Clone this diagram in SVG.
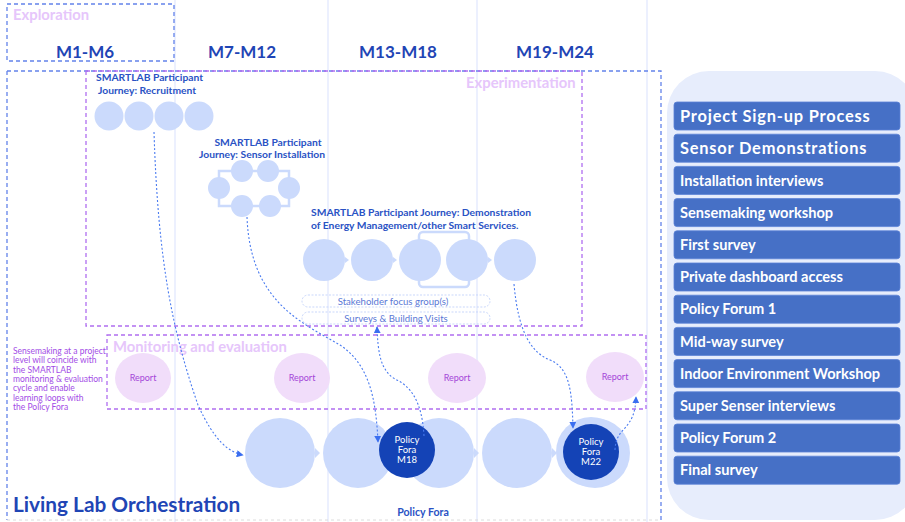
<svg xmlns="http://www.w3.org/2000/svg" width="905" height="522" viewBox="0 0 905 522">
<style>
.col{stroke:#dfe6fd;stroke-width:1.2;fill:none}
.hdr{font-family:Lato,"Noto Sans",sans-serif;font-weight:bold;font-size:17px;fill:#1f45b5;text-anchor:middle}
.ttl{font-family:Lato,"Noto Sans",sans-serif;font-weight:bold;font-size:10.3px;fill:#2a52c4}
.lc{fill:#cbdafc}
.dc{fill:#1443b6}
.wt{font-family:Lato,"Noto Sans",sans-serif;font-size:9.5px;fill:#ffffff;text-anchor:middle}
.pink{font-family:Lato,"Noto Sans",sans-serif;font-weight:bold;font-size:14.8px;fill:#e6c6fb}
.bdash{fill:none;stroke:#6383ea;stroke-width:1.3;stroke-dasharray:4 3}
.pdash{fill:none;stroke:#b06ef0;stroke-width:1.3;stroke-dasharray:4 3}
.rep{fill:#f1ddfa}
.rept{font-family:Lato,"Noto Sans",sans-serif;font-size:9px;fill:#a447d8;text-anchor:middle}
.conn{fill:none;stroke:#4a7bf0;stroke-width:1.1;stroke-dasharray:2 2}
.pill{fill:none;stroke:#c9d7fb;stroke-width:1;stroke-dasharray:2 1.5}
.pillt{font-family:Lato,"Noto Sans",sans-serif;font-size:9.6px;fill:#5a78d6;text-anchor:middle}
.item{fill:#4670c6;stroke:#5b82d6;stroke-width:0.8}
.itemt{font-family:Lato,"Noto Sans",sans-serif;font-weight:bold;font-size:14.6px;fill:#ffffff}
.big{font-size:16.4px;letter-spacing:0.8px}
.chev{fill:#cbdafc}
.frame{fill:none;stroke:#cbdafc;stroke-width:2.5}
</style>
<defs>
<marker id="ah" viewBox="0 0 10 10" refX="9" refY="5" markerWidth="7" markerHeight="7" markerUnits="userSpaceOnUse" orient="auto">
<path d="M0,0 L10,5 L0,10 z" fill="#3a6ef0"/>
</marker>
</defs>
<rect width="905" height="522" fill="#ffffff"/>

<g id="columns">
<line class="col" x1="175" y1="0" x2="175" y2="522"/>
<line class="col" x1="328" y1="0" x2="328" y2="522"/>
<line class="col" x1="477" y1="0" x2="477" y2="522"/>
<line class="col" x1="647" y1="0" x2="647" y2="522"/>
</g>

<g id="exploration">
<rect class="bdash" x="7" y="4" width="167" height="57"/>
<text class="pink" x="13" y="20" font-size="14.5">Exploration</text>
</g>

<g id="headers">
<text class="hdr" x="85" y="58">M1-M6</text>
<text class="hdr" x="242" y="58">M7-M12</text>
<text class="hdr" x="398" y="58">M13-M18</text>
<text class="hdr" x="555" y="58">M19-M24</text>
</g>

<g id="living-lab">
<path d="M7,71 H661 V520" class="bdash"/>
<path d="M7,71 V520" class="bdash"/>
<path d="M7,520 H661" fill="none" stroke="#dcdcdc" stroke-width="1" stroke-dasharray="3 3"/>
<text x="13" y="512" font-family="Lato,'Noto Sans',sans-serif" font-weight="bold" font-size="20.8" fill="#1f45b5">Living Lab Orchestration</text>
</g>

<g id="experimentation">
<rect class="pdash" x="86" y="71" width="496" height="255"/>
<text class="pink" x="466" y="88">Experimentation</text>
</g>

<g id="monitoring">
<rect class="pdash" x="107" y="335" width="539" height="74"/>
<text class="pink" x="113" y="352">Monitoring and evaluation</text>
</g>

<g id="sensemaking-note" font-family="Lato,'Noto Sans',sans-serif" font-size="8.5" fill="#a24be6">
<text x="13" y="354">Sensemaking at a project</text>
<text x="13" y="363.3">level will coincide with</text>
<text x="13" y="372.6">the SMARTLAB</text>
<text x="13" y="381.9">monitoring &amp; evaluation</text>
<text x="13" y="391.2">cycle and enable</text>
<text x="13" y="400.5">learning loops with</text>
<text x="13" y="409.8">the Policy Fora</text>
</g>

<g id="report-1"><ellipse class="rep" cx="143" cy="378" rx="28" ry="25"/><text class="rept" x="143" y="381">Report</text></g>
<g id="report-2"><ellipse class="rep" cx="302" cy="378" rx="28" ry="25"/><text class="rept" x="302" y="381">Report</text></g>
<g id="report-3"><ellipse class="rep" cx="457" cy="378" rx="29" ry="25"/><text class="rept" x="457" y="381">Report</text></g>
<g id="report-4"><ellipse class="rep" cx="615" cy="377" rx="29" ry="25"/><text class="rept" x="615" y="380">Report</text></g>

<g id="recruitment">
<text class="ttl" x="96" y="81">SMARTLAB Participant</text>
<text class="ttl" x="98" y="94">Journey: Recruitment</text>
<circle class="lc" cx="109" cy="116" r="14.5"/>
<circle class="lc" cx="139" cy="116" r="14.5"/>
<circle class="lc" cx="169" cy="116" r="14.5"/>
<circle class="lc" cx="199" cy="116" r="14.5"/>
</g>

<g id="sensor-installation">
<text class="ttl" x="268" y="146" text-anchor="middle">SMARTLAB Participant</text>
<text class="ttl" x="262" y="158" text-anchor="middle">Journey: Sensor Installation</text>
<rect class="frame" x="219" y="171" width="70" height="35"/>
<circle class="lc" cx="242" cy="171" r="11"/>
<circle class="lc" cx="268" cy="171" r="11"/>
<circle class="lc" cx="219" cy="188" r="11"/>
<circle class="lc" cx="289" cy="188" r="11"/>
<circle class="lc" cx="242" cy="206" r="11"/>
<circle class="lc" cx="270" cy="206" r="11"/>
</g>

<g id="demonstration">
<text class="ttl" x="311" y="216">SMARTLAB Participant Journey: Demonstration</text>
<text class="ttl" x="311" y="229">of Energy Management/other Smart Services.</text>
<rect class="frame" x="419" y="232" width="50" height="55" rx="4"/>
<circle class="lc" cx="324" cy="260" r="21"/>
<circle class="lc" cx="372" cy="260" r="21"/>
<circle class="lc" cx="420" cy="260" r="21"/>
<circle class="lc" cx="467" cy="260" r="21"/>
<circle class="lc" cx="515" cy="260" r="21"/>
<path class="chev" d="M345,257 L349,260 L345,263 z M393,257 L397,260 L393,263 z M488,257 L492,260 L488,263 z"/>
</g>

<g id="stakeholder-focus">
<rect class="pill" x="302" y="295" width="188" height="12" rx="6"/>
<text class="pillt" x="393" y="304.5">Stakeholder focus group(s)</text>
</g>
<g id="surveys-visits">
<rect class="pill" x="302" y="312" width="188" height="12" rx="6"/>
<text class="pillt" x="396" y="321.5">Surveys &amp; Building Visits</text>
</g>

<g id="policy-fora-row">
<circle class="lc" cx="280" cy="453" r="35"/>
<circle class="lc" cx="358" cy="453" r="35"/>
<circle class="lc" cx="439" cy="453" r="35"/>
<circle class="lc" cx="517" cy="453" r="35"/>
<circle class="lc" cx="595" cy="453" r="35"/>
<path class="chev" d="M315,448 L320,453 L315,458 z M474,448 L479,453 L474,458 z M552,448 L557,453 L552,458 z"/>
<text x="423" y="516" font-family="Lato,'Noto Sans',sans-serif" font-weight="bold" font-size="10.6" fill="#2a52c4" text-anchor="middle">Policy Fora</text>
</g>

<g id="policy-fora-m18">
<circle class="dc" cx="407" cy="450" r="28"/>
<text class="wt" x="407" y="443">Policy</text>
<text class="wt" x="407" y="453">Fora</text>
<text class="wt" x="407" y="463">M18</text>
</g>

<g id="policy-fora-m22">
<circle class="lc" cx="591" cy="452" r="35"/>
<circle class="dc" cx="591" cy="452" r="28"/>
<text class="wt" x="591" y="445">Policy</text>
<text class="wt" x="591" y="455">Fora</text>
<text class="wt" x="591" y="465">M22</text>
</g>

<g id="connectors">
<path class="conn" marker-end="url(#ah)" d="M154,132 C158,260 172,330 198,405 C214,440 228,452 243,455"/>
<path class="conn" marker-end="url(#ah)" d="M247,217 C250,300 300,322 340,345 C370,365 376,400 378,442"/>
<path class="conn" marker-end="url(#ah)" d="M424,436 C422,400 410,386 395,379 C380,370 378,352 377,327"/>
<path class="conn" marker-end="url(#ah)" d="M514,284 C518,330 530,352 550,360 C570,368 572,392 573,428"/>
<path class="conn" marker-end="url(#ah)" d="M615,450 C616,425 635,432 636,397"/>
</g>

<g id="activities">
<rect x="667" y="71" width="250" height="449" rx="42" fill="#e7edfc"/>
<g id="item-1"><rect class="item" x="674" y="102" width="226" height="28" rx="3"/><text class="itemt big" x="680" y="121.6">Project Sign-up Process</text></g>
<g id="item-2"><rect class="item" x="674" y="134.2" width="226" height="28" rx="3"/><text class="itemt big" x="680" y="153.8">Sensor Demonstrations</text></g>
<g id="item-3"><rect class="item" x="674" y="166.4" width="226" height="28" rx="3"/><text class="itemt" x="680" y="185.6">Installation interviews</text></g>
<g id="item-4"><rect class="item" x="674" y="198.6" width="226" height="28" rx="3"/><text class="itemt" x="680" y="217.8">Sensemaking workshop</text></g>
<g id="item-5"><rect class="item" x="674" y="230.8" width="226" height="28" rx="3"/><text class="itemt" x="680" y="250">First survey</text></g>
<g id="item-6"><rect class="item" x="674" y="263" width="226" height="28" rx="3"/><text class="itemt" x="680" y="282.2">Private dashboard access</text></g>
<g id="item-7"><rect class="item" x="674" y="295.2" width="226" height="28" rx="3"/><text class="itemt" x="680" y="314.4">Policy Forum 1</text></g>
<g id="item-8"><rect class="item" x="674" y="327.4" width="226" height="28" rx="3"/><text class="itemt" x="680" y="346.6">Mid-way survey</text></g>
<g id="item-9"><rect class="item" x="674" y="359.6" width="226" height="28" rx="3"/><text class="itemt" x="680" y="378.8">Indoor Environment Workshop</text></g>
<g id="item-10"><rect class="item" x="674" y="391.8" width="226" height="28" rx="3"/><text class="itemt" x="680" y="411">Super Senser interviews</text></g>
<g id="item-11"><rect class="item" x="674" y="424" width="226" height="28" rx="3"/><text class="itemt" x="680" y="443.2">Policy Forum 2</text></g>
<g id="item-12"><rect class="item" x="674" y="456.2" width="226" height="28" rx="3"/><text class="itemt" x="680" y="475.4">Final survey</text></g>
</g>
</svg>
